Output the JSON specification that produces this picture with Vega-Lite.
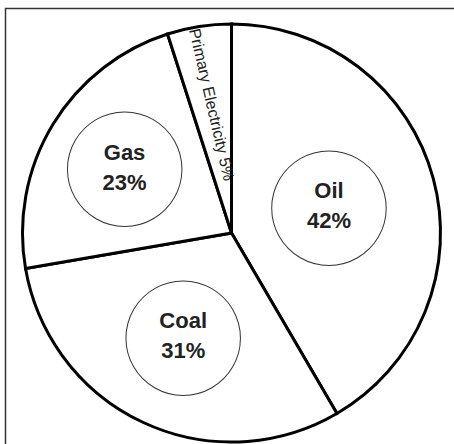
{
  "$schema": "https://vega.github.io/schema/vega-lite/v6.json",
  "width": 452,
  "height": 449,
  "autosize": "none",
  "padding": {"left": 5.5, "top": 8.5, "right": -3.5, "bottom": -13.5},
  "background": "white",
  "view": {"stroke": "#333333", "strokeWidth": 1.5},
  "data": {
    "values": [
      {"source": "Oil", "value": 42},
      {"source": "Coal", "value": 31},
      {"source": "Gas", "value": 23},
      {"source": "Primary Electricity", "value": 5}
    ]
  },
  "transform": [
    {"stack": "value", "groupby": [], "sort": [{"field": "value", "order": "descending"}], "as": ["v0", "v1"]},
    {"calculate": "(datum.v0 + datum.v1) / 2", "as": "mid"}
  ],
  "layer": [
    {
      "mark": {"type": "arc", "radius": 209, "fill": "white", "stroke": "black", "strokeWidth": 3},
      "encoding": {
        "theta": {"field": "value", "type": "quantitative", "stack": true, "scale": {"domain": [0, 101], "nice": false}},
        "order": {"field": "value", "type": "quantitative", "sort": "descending"}
      }
    },
    {
      "mark": {"type": "text", "text": "●", "font": "DejaVu Sans", "fontSize": 150, "dy": -5, "fill": "white", "stroke": "#333333", "strokeWidth": 1, "align": "center", "baseline": "middle"},
      "encoding": {
        "theta": {"field": "mid", "type": "quantitative"},
        "radius": {"field": "value", "type": "quantitative", "scale": {"type": "linear", "zero": false, "domain": [5, 23, 31, 42], "range": [130, 125, 114.5, 101]}},
        "opacity": {"condition": {"test": "datum.value < 10", "value": 0}, "value": 1}
      }
    },
    {
      "transform": [{"calculate": "[datum.source, datum.value + '%']", "as": "label"}],
      "mark": {"type": "text", "font": "Liberation Sans", "fontWeight": "bold", "fontSize": 22, "lineHeight": 30, "dy": -15.5, "fill": "#222222", "align": "center", "baseline": "middle"},
      "encoding": {
        "theta": {"field": "mid", "type": "quantitative"},
        "text": {"field": "label"},
        "radius": {"field": "value", "type": "quantitative"},
        "opacity": {"condition": {"test": "datum.value < 10", "value": 0}, "value": 1}
      }
    },
    {
      "transform": [{"calculate": "datum.source + ' ' + datum.value + '%'", "as": "label"}],
      "mark": {"type": "text", "font": "Liberation Sans", "fontSize": 16, "angle": 77, "fill": "#222222", "align": "center", "baseline": "middle"},
      "encoding": {
        "theta": {"field": "mid", "type": "quantitative"},
        "text": {"field": "label"},
        "radius": {"field": "value", "type": "quantitative"},
        "opacity": {"condition": {"test": "datum.value < 10", "value": 1}, "value": 0}
      }
    }
  ]
}
